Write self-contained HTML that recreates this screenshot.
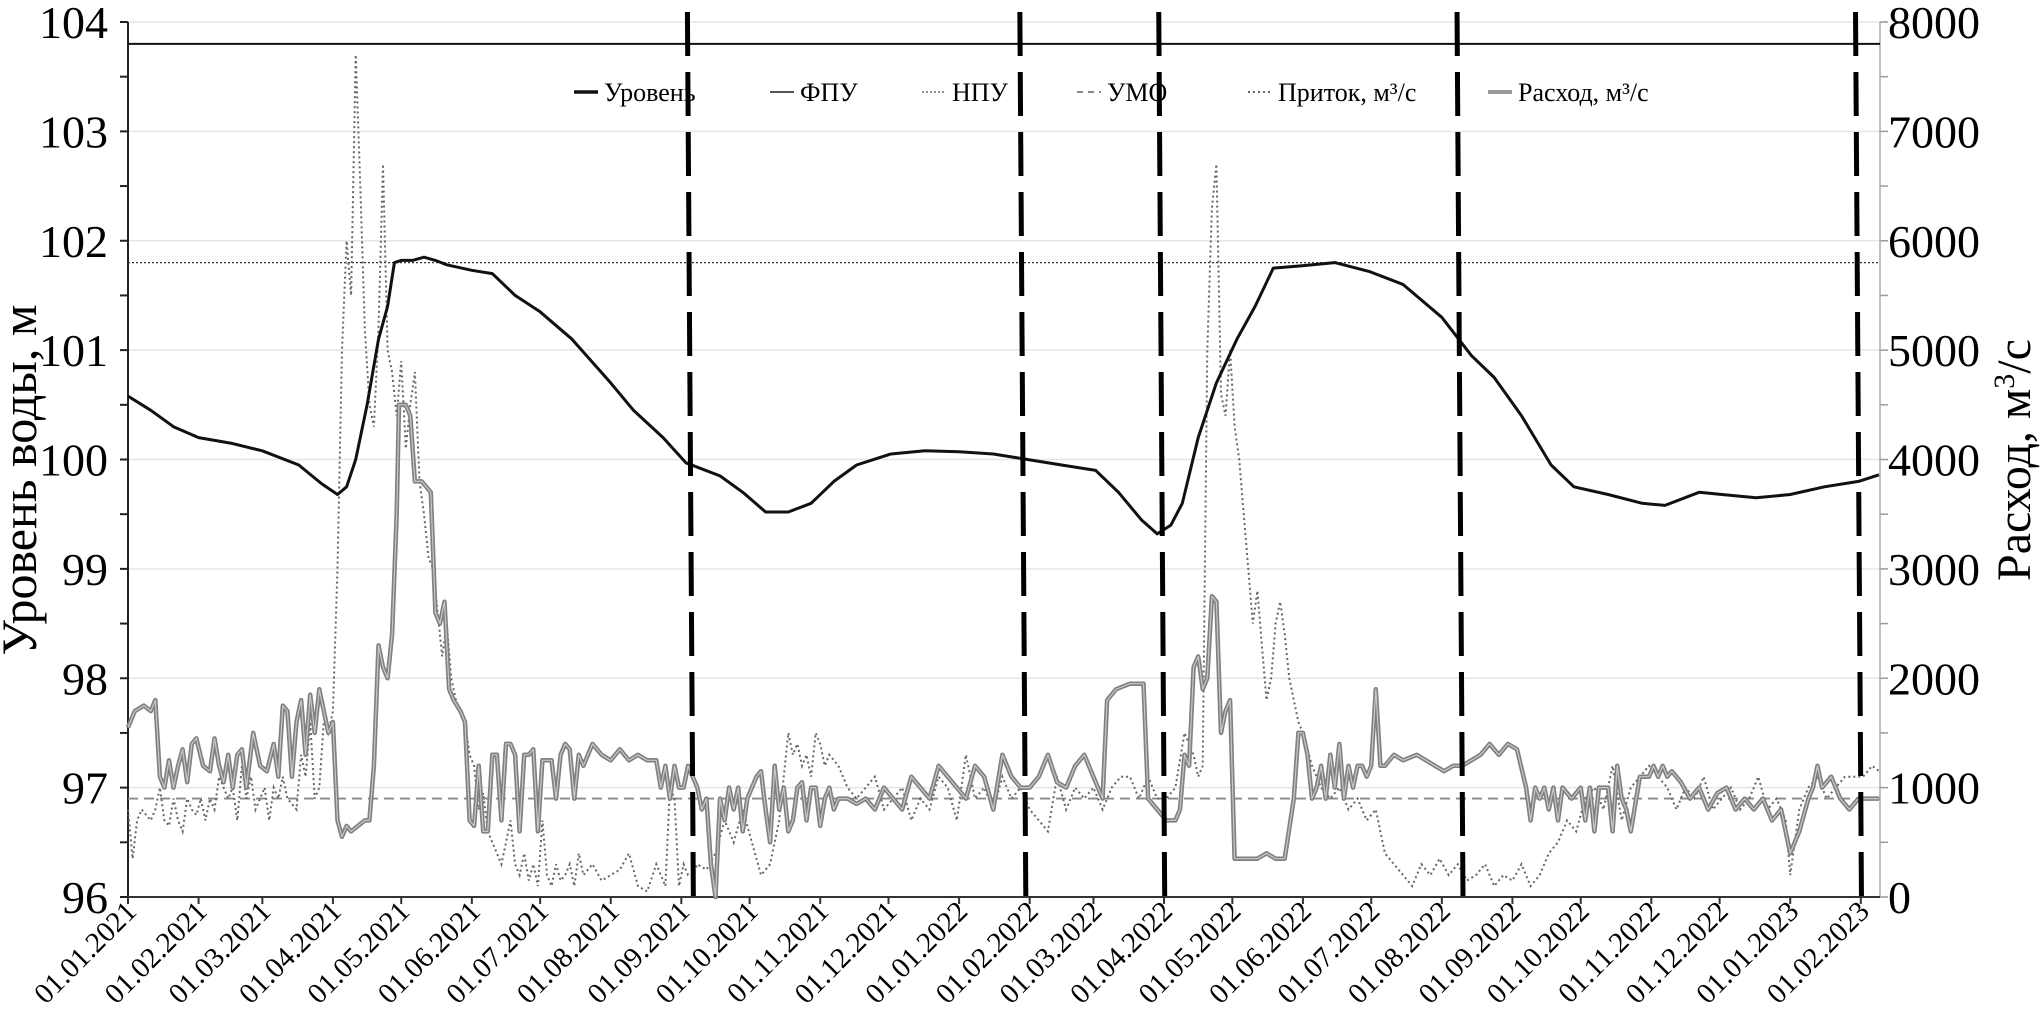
<!DOCTYPE html>
<html><head><meta charset="utf-8"><style>
html,body{margin:0;padding:0;background:#fff;}
svg{display:block;font-family:"Liberation Serif",serif;}
</style></head><body>
<svg id="chart" width="2042" height="1014" viewBox="0 0 2042 1014" xmlns="http://www.w3.org/2000/svg">
<g id="grid"></g>
<g id="axes"></g>
<g id="series"></g>
<g id="legend"></g>
<text transform="translate(36,480) rotate(-90)" text-anchor="middle" font-size="50">Уровень воды, м</text>
<text transform="translate(2030,460) rotate(-90)" text-anchor="middle" font-size="48">Расход, м<tspan dy="-16" font-size="30">3</tspan><tspan dy="16">/с</tspan></text>
</svg>
<script>
const xTickLabels = ["01.01.2021","01.02.2021","01.03.2021","01.04.2021","01.05.2021","01.06.2021","01.07.2021","01.08.2021","01.09.2021","01.10.2021","01.11.2021","01.12.2021","01.01.2022","01.02.2022","01.03.2022","01.04.2022","01.05.2022","01.06.2022","01.07.2022","01.08.2022","01.09.2022","01.10.2022","01.11.2022","01.12.2022","01.01.2023","01.02.2023"];
const xTickDays = [0,31,59,90,120,151,181,212,243,273,304,334,365,396,424,455,485,516,546,577,608,638,669,699,730,761];
const leftTicks = [96,97,98,99,100,101,102,103,104];
const rightTicks = [0,1000,2000,3000,4000,5000,6000,7000,8000];
const fpuLevel = 103.8;
const npuLevel = 101.8;
const umoLevel = 96.9;
const periodDays = [247,393,454,585,760];
const levelDays = [0,10,20,31,45,59,75,85,92,96,100,105,110,114,117,120,125,130,135,140,151,160,170,181,195,212,222,235,245,260,270,280,290,300,310,320,335,350,365,380,395,410,425,435,445,452,458,463,470,478,487,495,503,515,530,545,560,577,590,600,612,625,635,650,665,675,690,700,715,730,745,760,769];
const levelValues = [100.58,100.45,100.3,100.2,100.15,100.08,99.95,99.78,99.68,99.75,100.0,100.5,101.1,101.4,101.8,101.82,101.82,101.85,101.82,101.78,101.73,101.7,101.5,101.35,101.1,100.7,100.45,100.2,99.97,99.85,99.7,99.52,99.52,99.6,99.8,99.95,100.05,100.08,100.07,100.05,100.0,99.95,99.9,99.7,99.45,99.32,99.4,99.6,100.2,100.7,101.1,101.4,101.75,101.77,101.8,101.72,101.6,101.3,100.95,100.75,100.4,99.95,99.75,99.68,99.6,99.58,99.7,99.68,99.65,99.68,99.75,99.8,99.86];
const outflowDays = [0,3,7,10,12,14,16,18,20,22,24,26,28,30,33,36,38,40,42,44,46,48,50,52,55,58,61,64,66,68,70,72,74,76,78,80,82,84,86,88,90,92,94,96,98,101,104,106,108,110,112,114,116,118,119,122,124,126,129,131,133,135,137,139,141,143,146,148,150,152,154,156,158,160,162,164,166,168,170,172,174,176,178,180,182,186,188,190,192,194,196,198,200,204,208,212,216,220,224,228,232,234,236,238,240,242,244,246,248,250,252,254,256,258,260,262,264,266,268,270,272,274,276,278,280,282,284,286,288,290,292,294,296,298,300,302,304,306,308,310,312,316,320,324,328,332,336,340,344,348,352,356,360,364,368,372,376,380,384,388,392,396,400,404,408,412,416,420,424,428,430,434,440,446,448,452,456,460,462,464,466,468,470,472,474,476,478,480,482,484,486,490,496,500,504,508,512,514,516,518,520,522,524,526,528,530,532,534,536,538,540,542,544,546,548,550,552,556,560,566,570,574,578,582,586,590,594,598,602,606,610,614,616,618,620,622,624,626,628,630,634,638,640,642,644,646,650,652,654,656,658,660,664,668,670,672,674,676,678,680,682,686,690,694,698,702,706,710,714,718,722,726,730,734,738,740,742,744,748,752,756,760,764,769];
const outflowValues = [1550,1700,1750,1700,1800,1100,1000,1250,1000,1200,1350,1050,1400,1450,1200,1150,1450,1200,1050,1300,1000,1300,1350,1000,1500,1200,1150,1400,1100,1750,1700,1100,1600,1800,1300,1850,1500,1900,1700,1500,1600,700,550,650,600,650,700,700,1200,2300,2100,2000,2400,3500,4500,4500,4400,3800,3800,3750,3700,2600,2500,2700,1900,1800,1700,1600,700,650,1200,600,600,1300,1300,700,1400,1400,1300,600,1300,1300,1350,600,1250,1250,900,1300,1400,1350,900,1300,1200,1400,1300,1250,1350,1250,1300,1250,1250,1000,1200,900,1200,1000,1000,1200,1100,1000,800,900,300,0,900,700,1000,800,1000,600,900,1000,1100,1150,800,500,1200,800,1000,600,700,1000,1050,700,1000,1000,650,900,1000,800,900,900,850,900,800,1000,900,800,1100,1000,900,1200,1100,1000,900,1200,1100,800,1300,1100,1000,1000,1100,1300,1050,1000,1200,1300,1100,900,1800,1900,1950,1950,900,800,700,700,800,1300,1200,2100,2200,1900,2000,2750,2700,1500,1700,1800,350,350,350,400,350,350,900,1500,1500,1300,900,1000,1200,900,1300,1000,1400,900,1200,1000,1200,1200,1100,1200,1900,1200,1200,1300,1250,1300,1250,1200,1150,1200,1200,1250,1300,1400,1300,1400,1350,1000,700,1000,900,1000,800,1000,700,1000,900,1000,700,1000,600,1000,1000,600,1200,900,800,600,1100,1100,1200,1100,1200,1100,1150,1100,1050,900,1000,800,950,1000,800,900,800,900,700,800,400,600,900,1000,1200,1000,1100,900,800,900,900,900];
const inflowDays = [0,2,4,6,8,10,12,14,16,18,20,22,24,26,28,30,32,34,36,38,40,42,44,46,48,50,52,54,56,58,60,62,64,66,68,70,72,74,76,78,80,82,84,86,88,90,92,94,96,98,100,102,104,106,108,110,112,114,116,118,120,122,124,126,128,130,132,134,136,138,140,142,144,146,148,150,152,154,156,158,160,162,164,166,168,170,172,174,176,178,180,182,184,186,188,190,192,194,196,198,200,204,208,212,216,220,224,228,232,236,238,240,242,244,246,248,250,254,258,262,266,270,274,278,282,286,290,292,294,296,298,300,302,304,306,308,312,316,320,324,328,332,336,340,344,348,352,356,360,364,368,372,376,380,384,388,392,396,400,404,408,412,416,420,424,428,432,436,440,444,448,452,456,460,464,468,470,472,474,476,478,480,482,484,486,488,490,492,494,496,498,500,502,504,506,508,510,512,514,516,520,524,528,532,536,540,544,548,552,556,560,564,568,572,576,580,584,588,592,596,600,604,608,612,616,620,624,628,632,636,640,644,648,652,656,660,664,668,672,676,680,684,688,692,696,700,704,708,712,716,720,724,728,730,734,738,742,746,750,754,758,762,766,769];
const inflowValues = [800,350,700,800,750,700,800,1000,700,650,900,700,600,900,800,750,900,700,900,800,1100,1000,900,1000,700,1200,900,1100,800,900,1000,700,1000,900,1100,900,850,800,1300,1100,1600,900,1000,1600,1500,1700,3000,5000,6000,5500,7700,6500,5200,4500,4300,5200,6700,5000,4800,4400,4900,4100,4500,4800,3800,3500,3100,3000,2600,2200,2500,2000,1800,1700,1600,1300,1200,800,950,600,500,400,300,500,700,300,200,400,150,300,100,700,200,100,300,150,200,300,100,400,200,300,150,200,250,400,100,50,300,100,1000,900,100,300,200,200,300,250,400,700,500,800,500,200,300,700,1500,1300,1400,1200,1300,1100,1500,1400,1200,1300,1200,1000,900,1000,1100,800,900,1000,700,900,800,1100,1000,700,1300,900,1000,800,1100,900,1000,800,700,600,1100,800,1000,900,1000,800,1000,1100,1100,900,1100,900,900,1000,1500,1300,1100,1200,5000,6300,6700,4600,4400,5000,4300,4000,3500,3000,2500,2800,2300,1800,2000,2500,2700,2400,2000,1800,1600,1500,1200,1000,900,1000,800,900,700,800,400,300,200,100,300,200,350,200,300,150,200,300,100,200,150,300,100,200,400,500,700,600,900,1000,800,1200,700,1000,1100,1200,1100,1000,800,1000,900,1100,800,900,1000,800,900,1100,800,900,700,200,800,1000,1100,900,1000,1100,1100,1100,1200,1150];
const legendLabels = ["Уровень","ФПУ","НПУ","УМО","Приток, м³/с","Расход, м³/с"];

const NS = "http://www.w3.org/2000/svg";
const X0 = 128, PXDAY = 2.277, XEND = 1880, YTOP = 22, YBOT = 897;
const xS = d => X0 + d * PXDAY;
const yL = v => YBOT - (v - 96) / 8 * (YBOT - YTOP);
const yR = v => YBOT - v / 8000 * (YBOT - YTOP);
function mk(tag, attrs, parent) { const e = document.createElementNS(NS, tag); for (const k in attrs) e.setAttribute(k, attrs[k]); parent.appendChild(e); return e; }
const grid = document.getElementById('grid'), axes = document.getElementById('axes'), series = document.getElementById('series'), legend = document.getElementById('legend');

leftTicks.forEach((v, i) => {
  const y = yL(v);
  if (i > 0) { const g = mk('line', {x1: X0, x2: XEND, y1: y, y2: y, stroke: '#e6e6e6', 'stroke-width': 1.5}, grid);
  
   }
  const t = mk('line', {x1: X0 - 8, x2: X0, y1: y, y2: y, stroke: '#222', 'stroke-width': 2}, axes);
  
  
  if (i < leftTicks.length - 1) { const m = mk('line', {x1: X0 - 8, x2: X0, y1: yL(v + 0.5), y2: yL(v + 0.5), stroke: '#222', 'stroke-width': 2}, axes);
  
   }
  const lb = mk('text', {x: 108, y: y + 16, 'text-anchor': 'end', 'font-size': 46}, axes);
  lb.textContent = v;
  
  
});
rightTicks.forEach((v, i) => {
  const y = yR(v);
  const t = mk('line', {x1: XEND, x2: XEND + 8, y1: y, y2: y, stroke: '#999', 'stroke-width': 1.5}, axes);
  
  
  if (i < rightTicks.length - 1) { const m = mk('line', {x1: XEND, x2: XEND + 8, y1: yR(v + 500), y2: yR(v + 500), stroke: '#999', 'stroke-width': 1.5}, axes);
  
   }
  const lb = mk('text', {x: 1888, y: y + 16, 'text-anchor': 'start', 'font-size': 46}, axes);
  lb.textContent = v;
  
  
});
const la = mk('line', {x1: X0, x2: X0, y1: YTOP, y2: YBOT, stroke: '#222', 'stroke-width': 2}, axes);


const ra = mk('line', {x1: XEND, x2: XEND, y1: YTOP, y2: YBOT, stroke: '#aaa', 'stroke-width': 1.5}, axes);


const xa = mk('line', {x1: X0, x2: XEND, y1: YBOT, y2: YBOT, stroke: '#333', 'stroke-width': 2}, axes);


xTickDays.forEach((d, i) => {
  const x = xS(d);
  const t = mk('line', {x1: x, x2: x, y1: YBOT, y2: YBOT + 7, stroke: '#333', 'stroke-width': 2}, axes);
  
  
  const lb = mk('text', {x: 0, y: 0, 'text-anchor': 'end', 'font-size': 29, transform: `translate(${x + 10},${YBOT + 16}) rotate(-45)`}, axes);
  lb.textContent = xTickLabels[i];
  
  
});

function hline(v, attrs, name) {
  const l = mk('line', Object.assign({x1: X0, x2: XEND, y1: yL(v), y2: yL(v)}, attrs), series);
  
  
}
hline(fpuLevel, {stroke: '#111', 'stroke-width': 2}, 'fpu-line');
hline(npuLevel, {stroke: '#333', 'stroke-width': 1.3, 'stroke-dasharray': '2,2'}, 'npu-line');
hline(umoLevel, {stroke: '#888', 'stroke-width': 1.8, 'stroke-dasharray': '10,6'}, 'umo-line');

function pts(days, vals, yf) { return days.map((d, i) => xS(d).toFixed(1) + ',' + yf(vals[i]).toFixed(1)).join(' '); }
const inflow = mk('polyline', {points: pts(inflowDays, inflowValues, yR), fill: 'none', stroke: '#666', 'stroke-width': 2, 'stroke-dasharray': '2,3'}, series);


const outA = mk('polyline', {points: pts(outflowDays, outflowValues, yR), fill: 'none', stroke: '#808080', 'stroke-width': 4.5, 'stroke-linejoin': 'round'}, series);


const outB = mk('polyline', {points: pts(outflowDays, outflowValues, yR), fill: 'none', stroke: '#c8c8c8', 'stroke-width': 1.2, 'stroke-linejoin': 'round'}, series);


const lvl = mk('polyline', {points: pts(levelDays, levelValues, yL), fill: 'none', stroke: '#111', 'stroke-width': 3, 'stroke-linejoin': 'round'}, series);


periodDays.forEach(d => {
  const x = xS(d);
  const p = mk('line', {x1: x - 3, x2: x + 3, y1: 12, y2: YBOT + 8, stroke: '#000', 'stroke-width': 5, 'stroke-dasharray': '44,16'}, series);
  
  
});

const legX = [574, 770, 922, 1077, 1248, 1488];
const legStyles = [
  {stroke: '#111', 'stroke-width': 3.5},
  {stroke: '#555', 'stroke-width': 2},
  {stroke: '#666', 'stroke-width': 1.5, 'stroke-dasharray': '2,2'},
  {stroke: '#888', 'stroke-width': 2, 'stroke-dasharray': '6,5'},
  {stroke: '#666', 'stroke-width': 2, 'stroke-dasharray': '2,3'},
  {stroke: '#999', 'stroke-width': 4}
];
legendLabels.forEach((lab, i) => {
  const g = mk('g', {}, legend);
  
  
  mk('line', Object.assign({x1: legX[i], x2: legX[i] + 24, y1: 92, y2: 92}, legStyles[i]), g);
  const t = mk('text', {x: legX[i] + 30, y: 101, 'font-size': 26}, g);
  t.textContent = lab;
});
</script>
</body></html>
